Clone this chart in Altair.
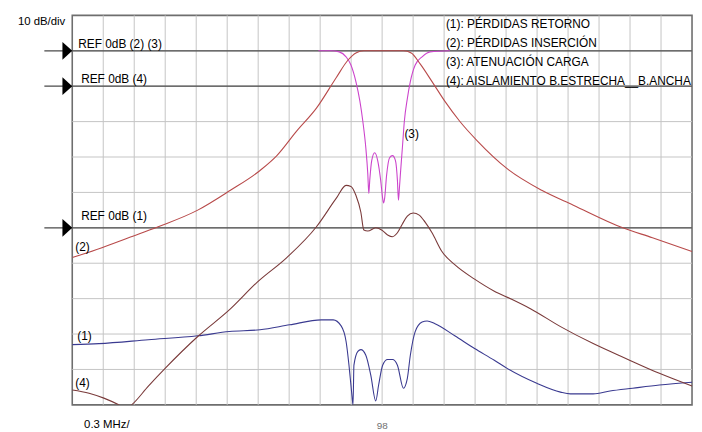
import altair as alt
import pandas as pd

# Reference levels on screen (dB below the top graticule line), 10 dB/div
ref_levels = [-10, -20, -60]          # (2)(3), (4), (1)
ref_names = ["REF 0dB (2) (3)", "REF 0dB (4)", "REF 0dB (1)"]

# (2) Pérdidas inserción, dB relative to REF (2)(3)
f2 = [95.000, 95.287, 95.545, 95.832, 96.215, 96.531, 96.818, 96.981, 97.172, 97.364,
      97.555, 97.670, 97.746, 97.823, 98.206, 98.282, 98.368, 98.483, 98.608, 98.751,
      98.923, 99.210, 99.545, 99.851, 100.330, 100.617, 101.000]
l2 = [-58.4, -55.6, -52.8, -49.7, -45.0, -39.4, -33.8, -29.6, -22.7, -16.2,
      -7.6, -2.6, -0.6, 0.0, 0.0, -0.6, -3.7, -8.7, -14.3, -19.9,
      -25.5, -33.3, -39.4, -43.6, -50.0, -52.8, -56.7]

# (3) Atenuación carga, dB relative to REF (2)(3)
f3 = [97.383, 97.507, 97.584, 97.651, 97.698, 97.746, 97.785, 97.813, 97.842, 97.861,
      97.871, 97.880, 97.899, 97.928, 97.957, 97.986, 98.005, 98.014, 98.024, 98.043,
      98.072, 98.100, 98.129, 98.148, 98.158, 98.167, 98.177, 98.196, 98.215, 98.244,
      98.273, 98.320, 98.387, 98.464, 98.655]
l3 = [0.0, 0.0, -0.3, -1.7, -4.0, -8.7, -14.3, -19.9, -27.4, -34.7,
      -40.3, -36.6, -31.0, -28.8, -31.0, -36.6, -41.7, -43.0, -41.7, -35.2,
      -30.2, -29.6, -31.0, -36.6, -42.2, -38.9, -34.7, -27.4, -19.9, -13.5,
      -8.7, -4.0, -1.7, -0.3, 0.0]

# (1) Pérdidas retorno, dB relative to REF (1)
f1 = [95.000, 95.258, 95.737, 96.215, 96.521, 96.818, 97.105, 97.411, 97.526, 97.603,
      97.651, 97.679, 97.698, 97.708, 97.718, 97.727, 97.765, 97.794, 97.842, 97.890,
      97.938, 97.966, 98.005, 98.053, 98.100, 98.148, 98.206, 98.244, 98.273, 98.320,
      98.387, 98.435, 98.512, 98.703, 98.895, 99.086, 99.210, 99.497, 99.727, 99.823,
      100.043, 100.206, 100.426, 100.684, 101.000]
l1 = [-33.0, -32.7, -31.6, -30.5, -29.3, -28.8, -27.4, -26.0, -26.0, -27.7,
      -32.1, -38.8, -44.4, -47.5, -50.0, -38.8, -34.9, -34.4, -36.0, -41.6,
      -48.9, -44.4, -38.8, -37.2, -37.2, -38.8, -45.3, -42.5, -36.0, -29.3,
      -26.6, -26.3, -27.1, -30.5, -34.1, -37.4, -39.7, -43.9, -46.4, -46.9,
      -46.9, -46.1, -45.3, -44.4, -43.6]

# (4) Aislamiento B.estrecha / B.ancha, dB relative to REF (4)
f4 = [95.000, 95.163, 95.306, 95.450, 95.517, 95.574, 95.737, 95.899, 96.215, 96.531,
      96.789, 97.077, 97.364, 97.555, 97.651, 97.698, 97.746, 97.794, 97.823, 97.861,
      97.938, 97.995, 98.053, 98.100, 98.148, 98.196, 98.244, 98.301, 98.359, 98.416,
      98.483, 98.579, 98.703, 98.895, 99.086, 99.249, 99.440, 99.727, 100.043, 100.359,
      100.684, 101.000]
l4 = [-85.8, -86.7, -88.1, -90.0, -91.1, -90.0, -84.7, -79.7, -70.7, -62.9,
      -55.4, -48.4, -39.7, -31.7, -28.0, -28.3, -30.8, -35.6, -40.6, -40.9,
      -40.0, -40.6, -42.0, -42.5, -41.4, -38.9, -36.7, -35.8, -36.4, -38.4,
      -41.4, -46.7, -50.4, -54.5, -57.9, -60.1, -62.9, -67.9, -72.7, -76.9,
      -81.1, -84.7]

legend_lines = ["(1): PÉRDIDAS RETORNO", "(2): PÉRDIDAS INSERCIÓN",
                "(3): ATENUACIÓN CARGA", "(4): AISLAMIENTO B.ESTRECHA__B.ANCHA"]

FONT = "Liberation Sans"
x_scale = alt.Scale(domain=[95, 101], nice=False, zero=False)
y_scale = alt.Scale(domain=[-110, 0], nice=False, zero=False)
# graticule: 20 horizontal divisions of 0.3 MHz, 11 vertical divisions of 10 dB
x_grid = [round(95 + 0.3 * i, 2) for i in range(1, 20)]
y_grid = [-110 + 10 * i for i in range(1, 11)]

GRID = "#c4c4c4"
no_axis = None

vgrid = alt.Chart(pd.DataFrame({"g": x_grid})).mark_rule(
    color=GRID, strokeWidth=1).encode(x=alt.X("g:Q", scale=x_scale, axis=no_axis))
hgrid = alt.Chart(pd.DataFrame({"g": y_grid})).mark_rule(
    color=GRID, strokeWidth=1).encode(y=alt.Y("g:Q", scale=y_scale, axis=no_axis))


def curve(freqs, levels, ref, color, width=1.1):
    df = pd.DataFrame({"f": freqs, "level": levels})
    return alt.Chart(df).transform_calculate(
        y=f"datum.level + ({ref})"
    ).mark_line(color=color, strokeWidth=width, clip=True, interpolate="monotone").encode(
        x=alt.X("f:Q", scale=x_scale, axis=no_axis),
        y=alt.Y("y:Q", scale=y_scale, axis=no_axis),
    )


refs_df = pd.DataFrame({"ref": ref_levels, "name": ref_names,
                        "x0": [94.73] * 3, "x1": [101.0] * 3, "xf": [95.0] * 3})

ref_rules = alt.Chart(refs_df).mark_rule(color="#4a4a4a", strokeWidth=1.3).encode(
    x=alt.X("x0:Q", scale=x_scale, axis=no_axis), x2="x1:Q",
    y=alt.Y("ref:Q", scale=y_scale, axis=no_axis))

arrows = alt.Chart(refs_df).mark_point(
    shape="M -1.1 -1 L 0 0 L -1.1 1 Z", size=324, filled=True, color="black",
    opacity=1, strokeWidth=0).encode(
    x=alt.X("xf:Q", scale=x_scale, axis=no_axis), y=alt.Y("ref:Q", scale=y_scale, axis=no_axis))


def label(text, x, y, size=12, color="#000000", align="left"):
    return alt.Chart(pd.DataFrame({"t": [text]})).mark_text(
        font=FONT, fontSize=size, color=color, align=align, baseline="middle"
    ).encode(x=alt.value(x), y=alt.value(y), text="t:N")


texts = [
    label(ref_names[0], 6, 29),
    label(ref_names[1], 9, 64),
    label(ref_names[2], 9, 203),
    label("(2)", 3, 234),
    label("(1)", 5, 324),
    label("(4)", 3, 372),
    label("(3)", 336, 120),
    label("10 dB/div", -55, 7, size=11.5),
    label("0.3 MHz/", 12, 414, size=11.5),
]
for i, t in enumerate(legend_lines):
    texts.append(label(t, 378, [8.7, 27.7, 47, 66][i]))

center_lbl = alt.Chart(pd.DataFrame({"f": [98.0], "t": ["98"]})).mark_text(
    font=FONT, fontSize=10, color="#707070", align="center", baseline="middle"
).encode(x=alt.X("f:Q", scale=x_scale, axis=no_axis), y=alt.value(415), text="t:N")

chart = alt.layer(
    vgrid,
    hgrid,
    ref_rules,
    curve(f3, l3, ref_levels[0], "#cc44cc"),
    curve(f2, l2, ref_levels[0], "#b84a4a"),
    curve(f1, l1, ref_levels[2], "#3a3a90"),
    curve(f4, l4, ref_levels[1], "#7a3a3a"),
    arrows,
    *texts,
    center_lbl,
).properties(
    width=627, height=394,
    autosize=alt.AutoSizeParams(type="none"),
    padding={"left": 65, "top": 5, "right": 2, "bottom": 26},
    background="white",
).configure_view(stroke="#6e6e6e", strokeWidth=1.6)

chart.save("out.html", embed_options={"renderer": "svg", "actions": False})
